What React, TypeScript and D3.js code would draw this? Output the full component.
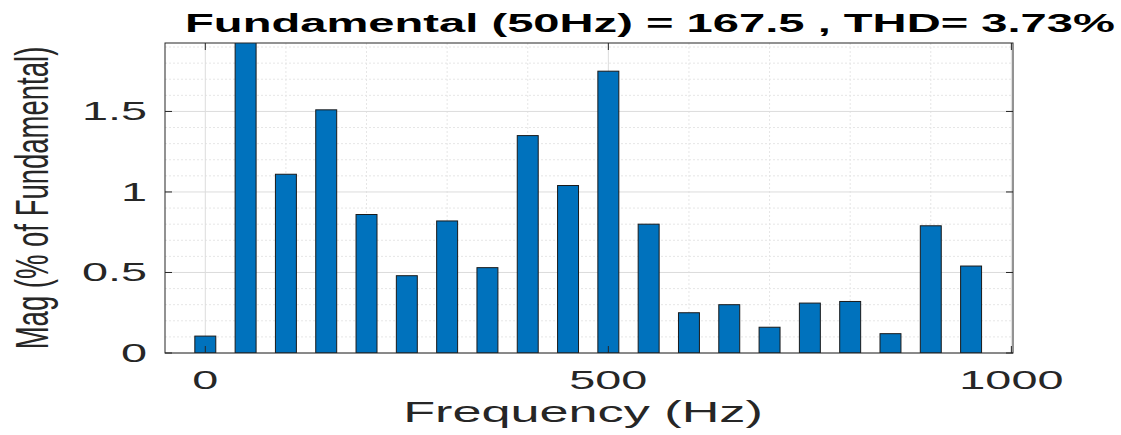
import React from "react";
import * as d3 from "d3";

// harmonic spectrum (magnitude in % of fundamental)
const frequencies = [0, 50, 100, 150, 200, 250, 300, 350, 400, 450, 500, 550, 600, 650, 700, 750, 800, 850, 900, 950];
const magnitudes = [0.105, 100, 1.11, 1.51, 0.86, 0.48, 0.82, 0.53, 1.35, 1.04, 1.75, 0.8, 0.25, 0.3, 0.16, 0.31, 0.32, 0.12, 0.79, 0.54];

const xTicks = [0, 500, 1000];
const xTickLabels = ["0", "500", "1000"];
const yTicks = [0, 0.5, 1, 1.5];
const yTickLabels = ["0", "0.5", "1", "1.5"];

const titleText = "Fundamental (50Hz) = 167.5 , THD= 3.73%";
const xLabel = "Frequency (Hz)";
const yLabel = "Mag (% of Fundamental)";

const W = 1121, H = 435;
const plot = { left: 165, right: 1013, top: 43, bottom: 353 };
const stretch = 1.8; // the picture is widened, text with it
const font = "'Liberation Sans', Arial, Helvetica, sans-serif";

export default function App() {
  const x = d3.scaleLinear().domain([-50, 1002]).range([plot.left, plot.right]);
  const y = d3.scaleLinear().domain([0, 1.925]).range([plot.bottom, plot.top]);
  const barW = x(26) - x(0);

  const minorX = d3.range(100, 1000, 100).filter(v => v % 500 !== 0);
  const minorY = d3.range(0.1, 1.92, 0.1).filter(v => Math.abs(v * 2 - Math.round(v * 2)) > 0.01);

  return (
    <svg width={W} height={H} style={{ position: "absolute", left: 0, top: 0, background: "#fff" }}>
      <defs>
        <clipPath id="plotClip">
          <rect x={plot.left} y={plot.top} width={plot.right - plot.left} height={plot.bottom - plot.top} />
        </clipPath>
      </defs>

      {/* minor grid */}
      {minorX.map(v => (
        <line key={"mx" + v} x1={x(v)} x2={x(v)} y1={plot.top} y2={plot.bottom}
          stroke="#e6e6e6" strokeDasharray="2,2" />
      ))}
      {minorY.map(v => (
        <line key={"my" + v} x1={plot.left} x2={plot.right} y1={y(v)} y2={y(v)}
          stroke="#e6e6e6" strokeDasharray="2,2" />
      ))}
      {/* major grid */}
      {xTicks.map(v => (
        <line key={"gx" + v} x1={x(v)} x2={x(v)} y1={plot.top} y2={plot.bottom} stroke="#dcdcdc" />
      ))}
      {yTicks.map(v => (
        <line key={"gy" + v} x1={plot.left} x2={plot.right} y1={y(v)} y2={y(v)} stroke="#dcdcdc" />
      ))}

      {/* bars */}
      <g clipPath="url(#plotClip)">
        {frequencies.map((f, i) => (
          <rect key={f} x={x(f) - barW / 2} y={y(magnitudes[i])} width={barW}
            height={y(0) - y(magnitudes[i])} fill="#0072BD" stroke="#1a1a1a" strokeWidth={1} />
        ))}
      </g>

      {/* axes box and ticks */}
      <rect x={plot.left} y={plot.top} width={plot.right - plot.left} height={plot.bottom - plot.top}
        fill="none" stroke="#262626" strokeWidth={1} />
      {xTicks.map(v => (
        <g key={"tx" + v}>
          <line x1={x(v)} x2={x(v)} y1={plot.bottom} y2={plot.bottom - 7} stroke="#262626" />
          <line x1={x(v)} x2={x(v)} y1={plot.top} y2={plot.top + 7} stroke="#262626" />
        </g>
      ))}
      {yTicks.map(v => (
        <g key={"ty" + v}>
          <line x1={plot.left} x2={plot.left + 7} y1={y(v)} y2={y(v)} stroke="#262626" />
          <line x1={plot.right} x2={plot.right - 7} y1={y(v)} y2={y(v)} stroke="#262626" />
        </g>
      ))}

      {/* tick labels */}
      {xTicks.map((v, i) => (
        <text key={"lx" + v} transform={`translate(${x(v)},389) scale(${stretch},1)`}
          textAnchor="middle" fontFamily={font} fontSize={26} fill="#262626">{xTickLabels[i]}</text>
      ))}
      {yTicks.map((v, i) => (
        <text key={"ly" + v} transform={`translate(147,${y(v) + 9}) scale(${stretch},1)`}
          textAnchor="end" fontFamily={font} fontSize={26} fill="#262626">{yTickLabels[i]}</text>
      ))}

      {/* axis labels */}
      <text transform={`translate(583,422) scale(${stretch},1)`} textAnchor="middle"
        fontFamily={font} fontSize={29} fill="#262626">{xLabel}</text>
      <text transform={`translate(48,198) rotate(-90) scale(1,${stretch * 0.95})`} textAnchor="middle"
        fontFamily={font} fontSize={27.5} fill="#262626">{yLabel}</text>

      {/* title */}
      <text transform={`translate(650,32) scale(${stretch},1)`} textAnchor="middle"
        fontFamily={font} fontSize={26.2} fontWeight="bold" fill="#000">{titleText}</text>
    </svg>
  );
}
